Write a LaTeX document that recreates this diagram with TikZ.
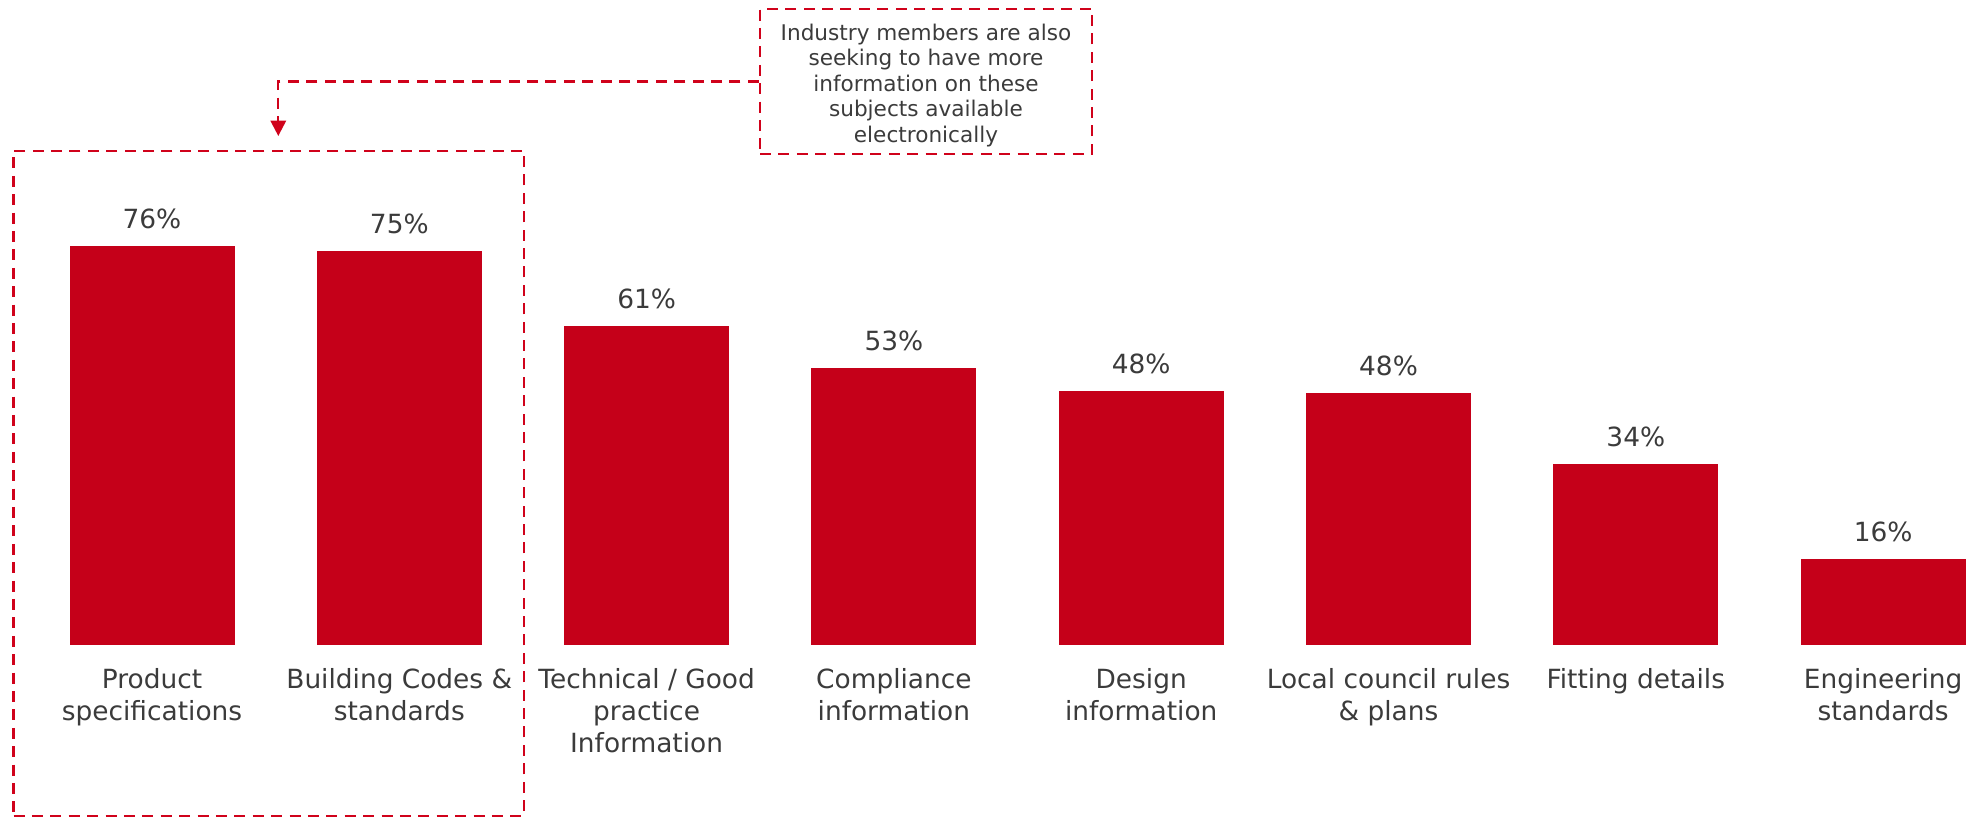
\documentclass[tikz,border=0pt]{standalone}
\usepackage{fontspec}
\setmainfont{DejaVu Sans}
\usetikzlibrary{arrows.meta,calc}
\definecolor{barred}{HTML}{C50019}
\definecolor{txt}{HTML}{3B3B3B}
\definecolor{dashred}{HTML}{D0021B}
\newcommand{\catlines}[1]{\begin{tabular}[t]{@{}c@{}}#1\end{tabular}}
\begin{document}
\begin{tikzpicture}[x=0.5pt,y=-0.5pt,
 bar/.style={fill=barred,draw=none,minimum width=82.5pt,inner sep=0pt,anchor=south},
 pct/.style={text=txt,font=\fontsize{13.2}{16}\selectfont,anchor=base,inner sep=0pt},
 cat/.style={text=txt,font=\fontsize{13.2}{16}\selectfont,anchor=base,inner sep=0pt},
 dashline/.style={draw=dashred,line width=1.15pt,dash pattern=on 5.5pt off 3.7pt}]
\useasboundingbox (0,0) rectangle (1983,817);

% bars
\node[bar,minimum height=199.2pt] (b1) at (152,645) {};
\node[bar,minimum height=196.65pt] (b2) at (399.3,645) {};
\node[bar,minimum height=159.5pt] (b3) at (646.6,645) {};
\node[bar,minimum height=138.5pt] (b4) at (893.9,645) {};
\node[bar,minimum height=127pt] (b5) at (1141.2,645) {};
\node[bar,minimum height=126pt] (b6) at (1388.5,645) {};
\node[bar,minimum height=90.5pt] (b7) at (1635.8,645) {};
\node[bar,minimum height=42.85pt] (b8) at (1883.1,645) {};

% values
\node[pct] (p1) at ($(b1.north)+(0,-17)$) {76\%};
\node[pct] (p2) at ($(b2.north)+(0,-17)$) {75\%};
\node[pct] (p3) at ($(b3.north)+(0,-17)$) {61\%};
\node[pct] (p4) at ($(b4.north)+(0,-17)$) {53\%};
\node[pct] (p5) at ($(b5.north)+(0,-17)$) {48\%};
\node[pct] (p6) at ($(b6.north)+(0,-17)$) {48\%};
\node[pct] (p7) at ($(b7.north)+(0,-17)$) {34\%};
\node[pct] (p8) at ($(b8.north)+(0,-17)$) {16\%};

% categories
\node[cat] (l1) at (152,689) {\catlines{Product\\specifications}};
\node[cat] (l2) at (399.3,689) {\catlines{Building Codes \&\\standards}};
\node[cat] (l3) at (646.6,689) {\catlines{Technical / Good\\practice\\Information}};
\node[cat] (l4) at (893.9,689) {\catlines{Compliance\\information}};
\node[cat] (l5) at (1141.2,689) {\catlines{Design\\information}};
\node[cat] (l6) at (1388.5,689) {\catlines{Local council rules\\\& plans}};
\node[cat] (l7) at (1635.8,689) {\catlines{Fitting details}};
\node[cat] (l8) at (1883.1,689) {\catlines{Engineering\\standards}};

% highlight frame
\node[dashline,minimum width=255.25pt,minimum height=332.55pt,inner sep=0pt] (grp) at (268.75,483.25) {};

% callout
\node[dashline,minimum width=166pt,minimum height=72.5pt,inner sep=0pt] (c) at (926,81.5) {};
\node[text=txt,font=\fontsize{10.8}{12.7}\selectfont,align=center,inner sep=0pt] (ct) at (926,85.3)
 {Industry members are also\\seeking to have more\\information on these\\subjects available\\electronically};

\coordinate (tip) at (278.3,136);
\draw[dashline,-{Triangle[width=7.7pt,length=7.7pt]}] (c.west) -| (tip);
\end{tikzpicture}
\end{document}
